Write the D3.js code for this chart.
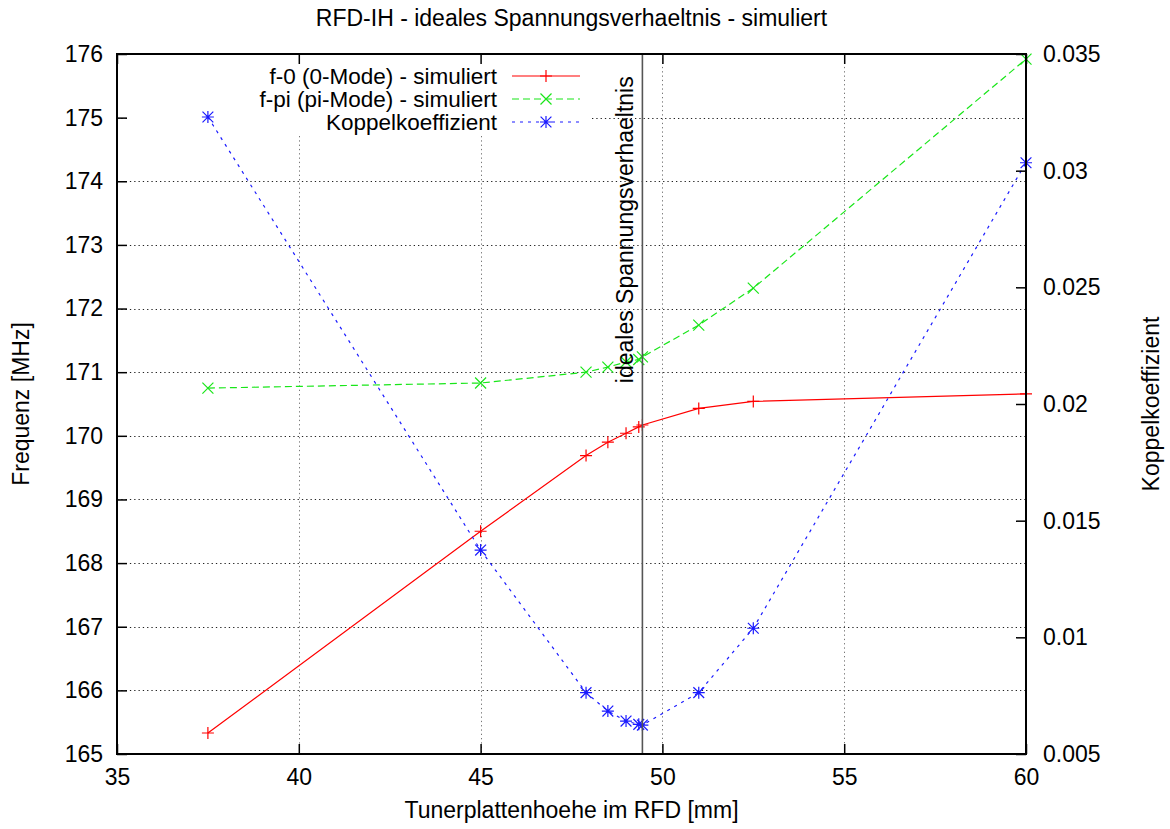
<!DOCTYPE html>
<html>
<head>
<meta charset="utf-8">
<script src="https://cdn.jsdelivr.net/npm/d3@7"></script>
<style>
  html, body { margin: 0; padding: 0; background: #fff; }
  svg text { font-family: "Liberation Sans", Arial, Helvetica, sans-serif; fill: #000; }
</style>
</head>
<body>
<svg id="chart" width="1170" height="829"></svg>
<script>
// Tuner plate height [mm] for each simulation run
const tunerHeight = [37.5, 45, 47.9, 48.5, 49, 49.35, 49.45, 51, 52.5, 60];
// 0-mode frequency [MHz]
const f0 = [165.33, 168.5, 169.69, 169.9, 170.04, 170.14, 170.17, 170.43, 170.54, 170.66];
// pi-mode frequency [MHz]
const fpi = [170.75, 170.83, 171.0, 171.08, 171.16, 171.2, 171.24, 171.74, 172.32, 175.92];
// coupling coefficient (right axis)
const koppel = [0.0323, 0.01374, 0.00763, 0.00684, 0.00641, 0.00627, 0.00624, 0.00763, 0.01039, 0.03034];

// ideal voltage ratio position
const idealHeight = 49.45;

const xTicks = [35, 40, 45, 50, 55, 60];
const yTicks = [165, 166, 167, 168, 169, 170, 171, 172, 173, 174, 175, 176];
const y2Ticks = [0.005, 0.01, 0.015, 0.02, 0.025, 0.03, 0.035];

const titleText = "RFD-IH - ideales Spannungsverhaeltnis - simuliert";
const xLabel = "Tunerplattenhoehe im RFD [mm]";
const yLabel = "Frequenz [MHz]";
const y2Label = "Koppelkoeffizient";
const idealLabel = "ideales Spannungsverhaeltnis";
const seriesNames = ["f-0 (0-Mode) - simuliert", "f-pi (pi-Mode) - simuliert", "Koppelkoeffizient"];

const L = 117, R = 1026, T = 54, B = 754;
const FS = 23;
const svg = d3.select("#chart");

const x = d3.scaleLinear().domain([35, 60]).range([L, R]);
const y = d3.scaleLinear().domain([165, 176]).range([B, T]);
const y2 = d3.scaleLinear().domain([0.005, 0.035]).range([B, T]);

// area kept free of grid lines by the key
const keyBox = { x0: 128, x1: 592, y0: T, y1: 136 };

const gridG = svg.append("g")
  .attr("stroke", "#222").attr("stroke-width", 1)
  .attr("stroke-dasharray", "1.3,3").attr("fill", "none");

yTicks.filter(v => v > 165 && v < 176).forEach(v => {
  const yy = Math.round(y(v)) + 0.5;
  if (yy > keyBox.y0 && yy < keyBox.y1) {
    gridG.append("line").attr("x1", L).attr("x2", keyBox.x0).attr("y1", yy).attr("y2", yy);
    gridG.append("line").attr("x1", keyBox.x1).attr("x2", R).attr("y1", yy).attr("y2", yy);
  } else {
    gridG.append("line").attr("x1", L).attr("x2", R).attr("y1", yy).attr("y2", yy);
  }
});
xTicks.filter(v => v > 35 && v < 60).forEach(v => {
  const xx = Math.round(x(v)) + 0.5;
  const top = (xx > keyBox.x0 && xx < keyBox.x1) ? keyBox.y1 : T;
  gridG.append("line").attr("x1", xx).attr("x2", xx).attr("y1", top).attr("y2", B)
    .attr("stroke", "#777");
});

// marker shapes
function plusPath(s) { return `M${-s},0H${s}M0,${-s}V${s}`; }
function crossPath(s) { return `M${-s},${-s}L${s},${s}M${-s},${s}L${s},${-s}`; }
function starPath(s) { return plusPath(s) + crossPath(s * 0.9); }

const series = [
  { name: seriesNames[0], vals: f0, scale: y, color: "#ff0000", dash: null, marker: plusPath(6) },
  { name: seriesNames[1], vals: fpi, scale: y, color: "#19e619", dash: "7,4", marker: crossPath(5.5) },
  { name: seriesNames[2], vals: koppel, scale: y2, color: "#1a1aff", dash: "3,5", marker: starPath(6) }
];

const plotG = svg.append("g");
series.forEach(s => {
  const pts = tunerHeight.map((h, i) => [h, s.vals[i]]);
  const line = d3.line().x(d => x(d[0])).y(d => s.scale(d[1]));
  plotG.append("path").datum(pts).attr("d", line)
    .attr("fill", "none").attr("stroke", s.color).attr("stroke-width", 1.2)
    .attr("stroke-dasharray", s.dash);
  plotG.selectAll(null).data(pts).enter().append("path")
    .attr("transform", d => `translate(${x(d[0])},${s.scale(d[1])})`)
    .attr("d", s.marker).attr("fill", "none").attr("stroke", s.color).attr("stroke-width", 1.2);
});

// ideal voltage ratio marker line
const ix = x(idealHeight);
svg.append("line").attr("x1", ix).attr("x2", ix).attr("y1", T).attr("y2", B)
  .attr("stroke", "#555").attr("stroke-width", 1.6);
svg.append("text")
  .attr("transform", `translate(${ix - 9},${y(171) + 11}) rotate(-90)`)
  .attr("font-size", FS).attr("text-anchor", "start")
  .text(idealLabel);

// axes with inward ticks
const tickLen = 10;
const axB = svg.append("g").attr("transform", `translate(0,${B})`)
  .call(d3.axisBottom(x).tickValues(xTicks).tickSizeInner(-tickLen).tickSizeOuter(0).tickPadding(13).tickFormat(d3.format("d")));
const axT = svg.append("g").attr("transform", `translate(0,${T})`)
  .call(d3.axisTop(x).tickValues(xTicks).tickSizeInner(-tickLen).tickSizeOuter(0).tickFormat(""));
const axL = svg.append("g").attr("transform", `translate(${L},0)`)
  .call(d3.axisLeft(y).tickValues(yTicks).tickSizeInner(-tickLen).tickSizeOuter(0).tickPadding(14).tickFormat(d3.format("d")));
const axR = svg.append("g").attr("transform", `translate(${R},0)`)
  .call(d3.axisRight(y2).tickValues(y2Ticks).tickSizeInner(-tickLen).tickSizeOuter(0).tickPadding(17).tickFormat(d => String(+d.toFixed(3))));
[axB, axT, axL, axR].forEach(a => {
  a.select(".domain").remove();
  a.selectAll(".tick line").attr("stroke", "#000").attr("stroke-width", 1.5);
  a.selectAll(".tick text").attr("font-size", FS)
    .style("font-family", "'Liberation Sans', Arial, Helvetica, sans-serif").attr("fill", "#000");
});
axB.selectAll(".tick text").attr("dy", "0.8em");

// plot border
svg.append("rect").attr("x", L).attr("y", T).attr("width", R - L).attr("height", B - T)
  .attr("fill", "none").attr("stroke", "#000").attr("stroke-width", 2);

// key
const keyRows = [76, 99, 122];
const keyG = svg.append("g");
series.forEach((s, i) => {
  const ky = keyRows[i];
  keyG.append("text").attr("x", 497).attr("y", ky).attr("dy", "0.36em")
    .attr("text-anchor", "end").attr("font-size", 22.5).text(s.name);
  keyG.append("line").attr("x1", 512).attr("x2", 580).attr("y1", ky).attr("y2", ky)
    .attr("stroke", s.color).attr("stroke-width", 1.2).attr("stroke-dasharray", s.dash);
  keyG.append("path").attr("transform", `translate(546,${ky})`).attr("d", s.marker)
    .attr("fill", "none").attr("stroke", s.color).attr("stroke-width", 1.2);
});

// titles
svg.append("text").attr("x", (L + R) / 2).attr("y", 26).attr("text-anchor", "middle")
  .attr("font-size", FS).text(titleText);
svg.append("text").attr("x", (L + R) / 2).attr("y", 818).attr("text-anchor", "middle")
  .attr("font-size", FS).text(xLabel);
svg.append("text").attr("transform", `translate(29,${(T + B) / 2}) rotate(-90)`)
  .attr("text-anchor", "middle").attr("font-size", FS).text(yLabel);
svg.append("text").attr("transform", `translate(1159,${(T + B) / 2}) rotate(-90)`)
  .attr("text-anchor", "middle").attr("font-size", FS).text(y2Label);
</script>
</body>
</html>
